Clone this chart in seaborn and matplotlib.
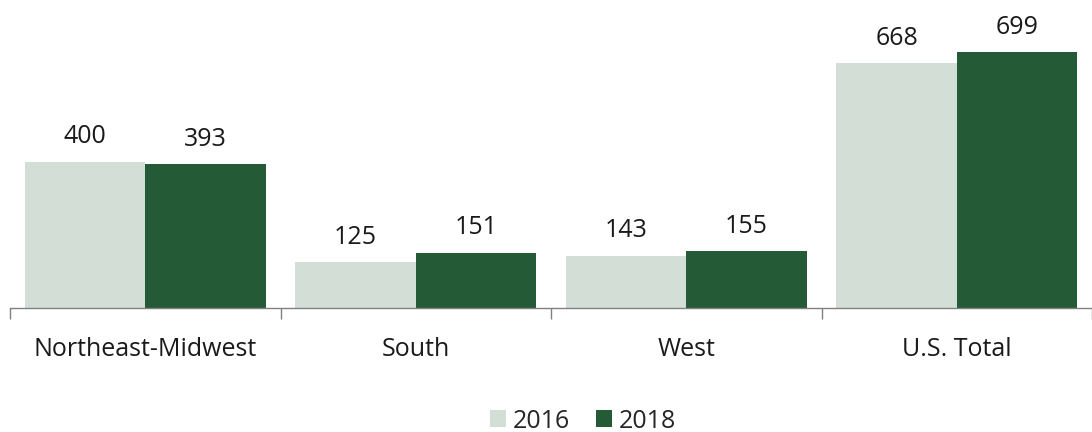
import pandas as pd
import matplotlib.pyplot as plt
import seaborn as sns

# chart data
regions = ['Northeast-Midwest', 'South', 'West', 'U.S. Total']
vals_2016 = [400, 125, 143, 668]
vals_2018 = [393, 151, 155, 699]
years = ['2016', '2018']

df = pd.DataFrame({
    'region': regions * 2,
    'year': [years[0]] * 4 + [years[1]] * 4,
    'value': vals_2016 + vals_2018,
})

sns.set_style('white')
plt.rcParams['font.family'] = ['Open Sans', 'DejaVu Sans']

fig = plt.figure(figsize=(10.92, 4.32), dpi=100)
ax = fig.add_axes([10 / 1092, 124 / 432, 1082 / 1092, 308 / 432])

palette = {'2016': '#D3DED6', '2018': '#245A36'}
sns.barplot(data=df, x='region', y='value', hue='year', palette=palette,
            width=0.89, saturation=1, linewidth=0, ax=ax, legend=True)

for cont in ax.containers:
    ax.bar_label(cont, padding=9, fontsize=18, color='#1a1a1a')

ax.set_ylim(0, 699 * 308 / 256)
ax.set_xlim(-0.5, 3.5)
ax.set_xlabel('')
ax.set_ylabel('')
ax.set_yticks([])
for s in ['top', 'right', 'left']:
    ax.spines[s].set_visible(False)
ax.spines['bottom'].set_color('#808080')
ax.spines['bottom'].set_linewidth(1)

# tick marks at category boundaries, labels centered
ax.set_xticks([-0.5, 0.5, 1.5, 2.5, 3.5], minor=False)
ax.set_xticklabels([])
ax.set_xticks([0, 1, 2, 3], minor=True)
ax.set_xticklabels(regions, minor=True, fontsize=18, color='#1a1a1a')
ax.tick_params(axis='x', which='major', length=8, width=1, color='#808080', direction='out', bottom=True)
ax.tick_params(axis='x', which='minor', length=0, pad=21)

handles, labels = ax.get_legend_handles_labels()
ax.get_legend().remove()
fig.legend(handles, labels, loc='center', bbox_to_anchor=(583 / 1092, 11 / 432), ncol=2,
           frameon=False, fontsize=18, handlelength=0.65, handleheight=0.65,
           handletextpad=0.3, columnspacing=1.0)

fig.savefig('out.png', dpi=100)
